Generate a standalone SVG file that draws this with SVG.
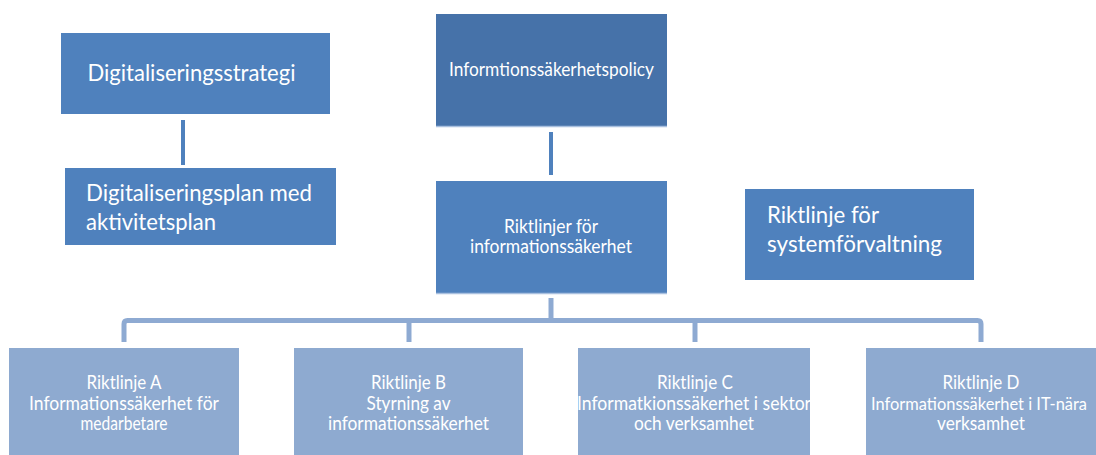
<svg xmlns="http://www.w3.org/2000/svg" width="1096" height="455" viewBox="0 0 1096 455">
<defs>
<style>
.dark{fill:#4f81bd}
.policy{fill:#4672a9}
.light{fill:#8eaad0}
.t{fill:#ffffff;font-family:Lato,"Liberation Sans",sans-serif}
.big{font-size:24px}
.mid{font-size:18.5px}
.c{text-anchor:middle}
.conn-top{stroke:#4f81bd;stroke-width:4;fill:none}
.conn-bus{stroke:#8eaad2;stroke-width:5;fill:none}
.edge{stroke:#a9c0df;stroke-width:1.5}
</style>
<clipPath id="clipC"><rect x="578" y="348" width="232" height="110"/></clipPath>
</defs>
<rect width="1096" height="455" fill="#ffffff"/>

<g id="connectors">
<line class="conn-top" x1="183" y1="120" x2="183" y2="165"/>
<line class="conn-top" x1="551" y1="132" x2="551" y2="175"/>
<path class="conn-bus" d="M124,342 V324 Q124,320.5 127.5,320.5 H977.5 Q981,320.5 981,324 V342"/>
<line class="conn-bus" x1="551" y1="298" x2="551" y2="320.5"/>
<line class="conn-bus" x1="409" y1="320.5" x2="409" y2="342"/>
<line class="conn-bus" x1="695" y1="320.5" x2="695" y2="342"/>
</g>

<g id="digitaliseringsstrategi">
<rect class="dark" x="61" y="33" width="269" height="81"/>
<text class="t big" x="87.5" y="81" textLength="208" lengthAdjust="spacingAndGlyphs">Digitaliseringsstrategi</text>
</g>

<g id="digitaliseringsplan">
<rect class="dark" x="65" y="168" width="271" height="77"/>
<text class="t big" x="86" y="201" textLength="226" lengthAdjust="spacingAndGlyphs">Digitaliseringsplan med</text>
<text class="t big" x="86" y="230" textLength="130" lengthAdjust="spacingAndGlyphs">aktivitetsplan</text>
</g>

<g id="policy">
<rect class="policy" x="436" y="14" width="231" height="112"/>
<line class="edge" x1="436" y1="126.5" x2="667" y2="126.5"/>
<text class="t mid c" x="551.5" y="76" textLength="205" lengthAdjust="spacingAndGlyphs">Informtionssäkerhetspolicy</text>
</g>

<g id="riktlinjer">
<rect class="dark" x="436" y="181" width="231" height="112"/>
<line class="edge" x1="436" y1="293.5" x2="667" y2="293.5"/>
<text class="t mid c" x="551" y="233" textLength="94" lengthAdjust="spacingAndGlyphs">Riktlinjer för</text>
<text class="t mid c" x="551" y="253" textLength="162" lengthAdjust="spacingAndGlyphs">informationssäkerhet</text>
</g>

<g id="systemforvaltning">
<rect class="dark" x="745" y="189" width="229" height="91"/>
<text class="t big" x="767" y="223" textLength="112" lengthAdjust="spacingAndGlyphs">Riktlinje för</text>
<text class="t big" x="767" y="252" textLength="175" lengthAdjust="spacingAndGlyphs">systemförvaltning</text>
</g>

<g id="riktlinje-a">
<rect class="light" x="9" y="348" width="230" height="110"/>
<text class="t mid c" x="124" y="389" textLength="75" lengthAdjust="spacingAndGlyphs">Riktlinje A</text>
<text class="t mid c" x="124" y="410" textLength="190" lengthAdjust="spacingAndGlyphs">Informationssäkerhet för</text>
<text class="t mid c" x="124" y="430" textLength="87" lengthAdjust="spacingAndGlyphs">medarbetare</text>
</g>

<g id="riktlinje-b">
<rect class="light" x="294" y="348" width="229" height="110"/>
<text class="t mid c" x="408.5" y="389" textLength="75" lengthAdjust="spacingAndGlyphs">Riktlinje B</text>
<text class="t mid c" x="408.5" y="410" textLength="84" lengthAdjust="spacingAndGlyphs">Styrning av</text>
<text class="t mid c" x="408.5" y="430" textLength="161" lengthAdjust="spacingAndGlyphs">informationssäkerhet</text>
</g>

<g id="riktlinje-c">
<rect class="light" x="578" y="348" width="232" height="110"/>
<g clip-path="url(#clipC)">
<text class="t mid c" x="695" y="389" textLength="76" lengthAdjust="spacingAndGlyphs">Riktlinje C</text>
<text class="t mid c" x="694" y="410" textLength="234" lengthAdjust="spacingAndGlyphs">Informatkionssäkerhet i sektor</text>
<text class="t mid c" x="694" y="430" textLength="120" lengthAdjust="spacingAndGlyphs">och verksamhet</text>
</g>
</g>

<g id="riktlinje-d">
<rect class="light" x="866" y="348" width="230" height="110"/>
<text class="t mid c" x="981" y="389" textLength="77" lengthAdjust="spacingAndGlyphs">Riktlinje D</text>
<text class="t c" style="font-size:17px" x="979" y="410" textLength="216" lengthAdjust="spacingAndGlyphs">Informationssäkerhet i IT-nära</text>
<text class="t mid c" x="981" y="430" textLength="88" lengthAdjust="spacingAndGlyphs">verksamhet</text>
</g>
</svg>
